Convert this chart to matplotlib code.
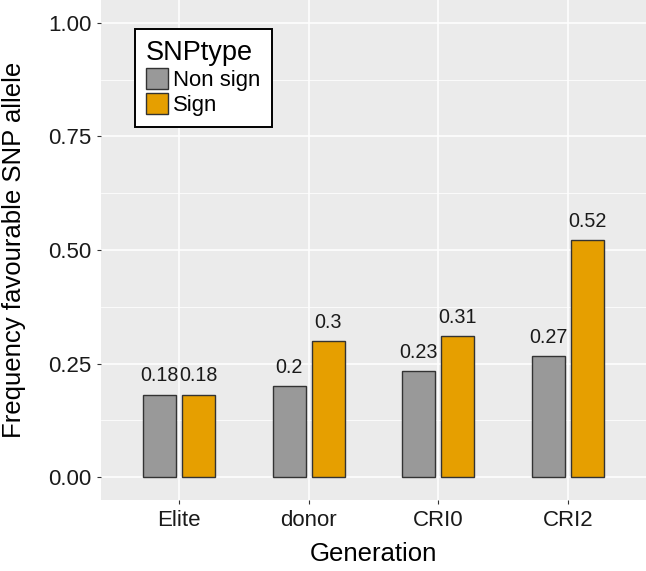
import matplotlib.pyplot as plt
import numpy as np
from matplotlib.patches import Patch

# data
generations = ['Elite', 'donor', 'CRI0', 'CRI2']
snp_types = ['Non sign', 'Sign']
freq_non_sign = [0.182, 0.200, 0.233, 0.266]
freq_sign = [0.182, 0.300, 0.310, 0.521]
bar_colors = ['#999999', '#E69F00']

plt.rcParams['font.family'] = ['Liberation Sans', 'DejaVu Sans']

fig = plt.figure(figsize=(6.46, 5.71), dpi=100)
ax = fig.add_axes([101 / 646, (571 - 500) / 571, 545 / 646, 500 / 571])

x = np.arange(len(generations))
offset = 0.15
width = 0.255

ax.set_facecolor('#EBEBEB')
for spine in ax.spines.values():
    spine.set_visible(False)

# grid (ggplot-like)
ax.set_axisbelow(True)
ax.set_yticks([0, 0.25, 0.5, 0.75, 1.0])
ax.set_yticks([0.125, 0.375, 0.625, 0.875], minor=True)
ax.grid(True, which='major', color='white', linewidth=1.1)
ax.grid(True, which='minor', axis='y', color='white', linewidth=0.55)
ax.tick_params(which='minor', length=0)

for vals, col, sign in zip([freq_non_sign, freq_sign], bar_colors, [-1, 1]):
    pos = x + sign * offset
    ax.bar(pos, vals, width=width, color=col, edgecolor='#333333', linewidth=1.0, zorder=2)
    for px, v in zip(pos, vals):
        ax.annotate(f'{round(v, 2):g}', (px, v), xytext=(0, 9.5), textcoords='offset points',
                    ha='center', va='baseline', fontsize=14.2, color='#1a1a1a')

ax.set_xlim(-0.6, len(generations) - 0.4)
ax.set_ylim(-0.05, 1.05)
ax.set_xticks(x)
ax.set_xticklabels(generations)
ax.set_yticklabels(['0.00', '0.25', '0.50', '0.75', '1.00'])
ax.tick_params(which='major', length=3, width=0.8, color='#333333', labelsize=16, labelcolor='#1a1a1a', pad=4)

ax.set_xlabel('Generation', fontsize=18.5, labelpad=8)
ax.set_ylabel('Frequency favourable SNP allele', fontsize=18.5)
ax.yaxis.set_label_coords(-0.137, 0.5)

handles = [Patch(facecolor=c, edgecolor='#333333', linewidth=1.0) for c in bar_colors]
leg = ax.legend(handles, snp_types, title='SNPtype', loc='upper left', bbox_to_anchor=(0.062, 0.942),
                borderaxespad=0, fontsize=15.9, title_fontsize=19.5, frameon=True, fancybox=False,
                edgecolor='black', facecolor='white', framealpha=1.0,
                handlelength=1.0, handleheight=1.05, handletextpad=0.25,
                labelspacing=0.1, borderpad=0.5)
leg.get_frame().set_linewidth(1.4)
leg._legend_box.align = 'left'

fig.savefig('out.png', dpi=100)
